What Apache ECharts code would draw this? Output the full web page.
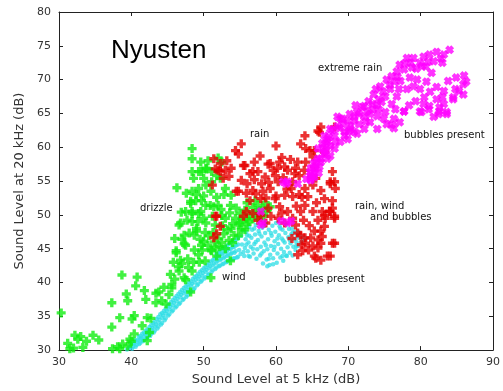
<!DOCTYPE html>
<html>
<head>
<meta charset="utf-8">
<script src="https://cdn.jsdelivr.net/npm/echarts@6/dist/echarts.min.js"></script>
<style>
  html, body { margin: 0; padding: 0; background: #fff; }
  #chart { width: 503px; height: 391px; }
</style>
</head>
<body>
<div id="chart"></div>
<script>
// Axis ranges and tick labels
const xTicks = [30, 40, 50, 60, 70, 80, 90];
const yTicks = [30, 35, 40, 45, 50, 55, 60, 65, 70, 75, 80];

// Wind: fine cyan points along the lower band [5 kHz level, 20 kHz level]
const windPoints = [
  [39.4,30.1],[39.7,30.5],[40.1,30.2],[40.0,30.8],[39.9,31.1],
  [40.6,30.5],[40.4,31.0],[40.5,31.5],[41.1,30.9],[40.9,31.5],[41.0,32.0],
  [41.6,31.3],[41.4,31.8],[41.5,32.4],[42.1,31.7],[41.9,32.3],[42.0,32.9],
  [42.6,32.1],[42.4,32.7],[42.5,33.4],[43.1,32.6],[42.9,33.3],[43.0,34.0],
  [43.6,33.2],[43.4,33.8],[43.5,34.6],[44.1,33.8],[43.9,34.5],[44.0,35.3],
  [44.6,34.4],[44.4,35.1],[44.5,35.8],[45.1,35.1],[44.9,35.8],[45.0,36.5],
  [45.6,35.7],[45.4,36.4],[45.5,37.1],[46.1,36.3],[45.9,37.0],[46.0,37.7],
  [46.6,36.8],[46.4,37.6],[46.5,38.3],[47.1,37.4],[46.9,38.2],[47.0,38.9],
  [47.6,37.9],[47.4,38.7],[47.5,39.4],[48.1,38.5],[47.9,39.3],[48.0,40.0],
  [48.6,39.0],[48.4,39.8],[48.5,40.5],[49.1,39.6],[48.9,40.4],[49.0,41.0],
  [49.6,40.1],[49.4,40.9],[49.5,41.6],[50.1,40.6],[49.9,41.4],[50.0,42.1],
  [50.6,41.1],[50.4,41.9],[50.5,42.6],[51.1,41.6],[50.9,42.4],[51.0,43.1],
  [51.6,42.0],[51.4,42.8],[51.5,43.5],[52.1,42.4],[51.9,43.2],[52.0,43.9],[52.1,44.4],
  [52.6,42.7],[52.4,43.5],[52.5,44.2],[52.6,44.9],[53.1,43.0],[52.9,43.8],[53.0,44.5],[53.1,45.3],
  [53.6,43.3],[53.4,44.1],[53.5,44.9],[53.6,45.7],[54.1,43.5],[53.9,44.4],[54.0,45.2],[54.1,46.1],
  [54.6,43.7],[54.4,44.6],[54.5,45.5],[54.6,46.4],[54.9,44.8],
  [39.75,30.3],[40.25,30.5],[40.25,31.0],[40.75,30.8],[40.75,31.3],
  [41.25,31.1],[41.25,31.6],[41.25,32.1],[41.75,31.5],[41.75,32.0],[41.75,32.6],
  [42.25,31.9],[42.25,32.5],[42.25,33.1],[42.75,32.4],[42.75,33.0],[42.75,33.7],
  [43.25,32.9],[43.25,33.5],[43.25,34.2],[43.75,33.5],[43.75,34.1],[43.75,34.9],
  [44.25,34.0],[44.25,34.8],[44.25,35.5],[44.75,34.7],[44.75,35.4],[44.75,36.1],
  [45.25,35.3],[45.25,36.0],[45.25,36.8],[45.75,35.9],[45.75,36.6],[45.75,37.4],
  [46.25,36.5],[46.25,37.2],[46.25,38.0],[46.75,37.0],[46.75,37.8],[46.75,38.6],
  [47.25,37.6],[47.25,38.4],[47.25,39.2],[47.75,38.1],[47.75,38.9],[47.75,39.7],
  [48.25,38.7],[48.25,39.5],[48.25,40.2],[48.75,39.2],[48.75,40.0],[48.75,40.8],
  [49.25,39.8],[49.25,40.5],[49.25,41.3],[49.75,40.3],[49.75,41.0],[49.75,41.8],
  [50.25,40.8],[50.25,41.6],[50.25,42.3],[50.75,41.3],[50.75,42.1],[50.75,42.8],
  [51.25,41.8],[51.25,42.5],[51.25,43.3],[51.75,42.2],[51.75,42.9],[51.75,43.7],[51.75,44.2],
  [52.25,42.5],[52.25,43.3],[52.25,44.1],[52.25,44.7],[52.75,42.8],[52.75,43.6],[52.75,44.4],[52.75,45.1],
  [53.25,43.1],[53.25,43.9],[53.25,44.7],[53.25,45.5],[53.75,43.4],[53.75,44.2],[53.75,45.0],[53.75,45.9],
  [54.25,43.6],[54.25,44.4],[54.25,45.3],[54.25,46.2],[54.75,43.8],[54.75,45.6],[54.75,46.6],
  [55.1,44.2],[55.3,45.6],[55.2,46.9],[55.4,47.7],[55.6,43.9],[55.7,45.1],[55.8,46.4],[55.9,47.5],
  [56.1,44.6],[56.2,45.9],[56.0,47.0],[56.3,48.2],[56.4,43.8],[56.5,45.3],[56.6,46.6],[56.7,47.8],
  [56.9,44.3],[57.0,45.7],[57.1,47.1],[57.2,48.5],[57.3,43.5],[57.4,44.9],[57.5,46.3],[57.6,47.6],
  [57.8,44.0],[57.9,45.3],[58.0,46.8],[58.1,48.1],[58.2,42.8],[58.3,44.6],[58.4,45.9],[58.5,47.3],
  [58.6,48.8],[58.7,43.4],[58.8,44.9],[58.9,46.4],[59.0,47.8],[59.1,42.6],[59.2,44.1],[59.3,45.4],
  [59.4,46.9],[59.5,48.4],[59.6,43.6],[59.7,44.8],[59.8,46.1],[59.9,47.5],[60.0,48.8],[60.1,42.9],
  [60.2,44.3],[60.3,45.7],[60.4,47.0],[60.5,48.3],[60.6,43.7],[60.7,45.0],[60.8,46.5],[60.9,47.8],
  [61.0,43.2],[61.1,44.5],[61.2,45.9],[61.3,47.3],[61.4,48.5],[61.5,43.9],[61.6,45.2],[61.7,46.7],
  [61.8,47.9],[61.9,44.4],[62.0,45.8],[62.1,47.1],[62.2,48.0],[62.3,44.0],[62.4,45.3],[62.5,46.4],
  [62.6,47.5],[62.7,44.8],[62.8,46.0],[62.9,47.0],[63.0,45.4],[63.1,46.6],[63.2,47.4],[63.4,45.9],
  [63.5,46.8],[63.7,46.2],[64.0,46.6],
  [55.5,44.5],[55.9,45.6],[56.3,46.9],[56.8,45.0],[57.2,46.0],[57.7,47.2],[58.0,44.3],[58.6,45.5],
  [59.0,43.5],[59.3,47.3],[59.8,45.3],[60.2,46.5],[60.6,48.0],[61.0,46.2],[61.4,44.0],[61.9,46.3],
  [62.3,47.4],[62.8,45.4],[58.4,48.4],[57.0,48.0],[56.2,43.9],[60.9,43.9],[59.6,42.7],[58.8,42.4]
];

// Drizzle: green points
const drizzlePoints = [
  [30.3,35.5],[31.5,30.2],[32.0,30.3],[32.6,31.6],[33.3,30.4],[33.8,31.3],[34.7,32.2],
  [35.5,31.5],[32.2,32.2],[31.2,31.0],[33.0,32.0],
  [37.4,30.2],[38.1,30.5],[38.4,30.2],[38.8,30.9],[39.5,30.6],[40.0,31.3],
  [38.7,41.1],[40.8,40.8],[40.6,39.5],[41.8,38.8],[43.4,38.4],[39.3,38.3],[39.5,37.3],
  [37.3,37.0],[42.0,37.5],[43.4,37.0],[38.4,34.8],[40.1,34.6],[42.2,34.8],[37.3,33.4],
  [41.5,33.6],[40.4,32.4],[42.5,32.6],[42.2,31.4],[39.8,31.6],[42.7,34.7],[40.4,35.1],
  [44.8,36.8],[45.6,39.7],[46.6,41.7],[47.3,40.7],[47.9,42.2],[46.8,43.3],[48.2,38.6],
  [46.2,44.7],[47.3,45.7],[45.2,38.2],[44.2,37.3],[45.6,39.2],[48.4,41.7],[47.5,40.4],
  [49.3,44.1],[50.2,43.2],[51.1,44.7],[50.0,46.1],[49.0,47.6],[48.0,47.3],[46.6,48.5],
  [48.4,49.0],[49.3,50.2],[48.2,51.7],[49.7,52.1],[50.9,51.4],[48.4,50.5],[46.2,44.4],
  [47.5,45.5],[47.3,47.0],[46.8,48.8],[47.7,49.2],[49.0,48.0],[50.3,48.8],[50.7,46.9],
  [49.7,45.5],[51.0,44.8],[51.6,48.5],[51.0,40.7],[53.7,43.2],[46.0,40.5],[47.0,42.8],
  [48.4,59.8],[48.4,58.3],[46.3,54.0],[48.4,56.4],[49.7,56.4],[50.4,56.8],[48.6,55.4],
  [49.3,53.9],[48.4,53.5],[48.2,52.0],[48.9,52.1],[50.3,54.4],[51.1,54.9],[51.0,53.5],
  [50.3,51.4],[51.4,51.2],[48.4,50.2],[49.6,50.5],[52.0,58.4],[52.5,57.8],[49.3,56.4],
  [50.3,56.9],[51.1,56.4],[50.0,55.4],[52.3,55.4],[53.0,53.9],[53.8,52.9],[53.7,51.4],
  [52.0,51.4],[52.5,49.9],[54.5,51.0],[55.7,50.7],[57.1,52.1],[56.8,51.1],[55.9,49.5],
  [54.8,48.5],[55.7,47.8],[53.8,48.0],[53.0,49.5],[57.5,51.4],[58.2,51.0],[47.5,50.5],
  [52.0,46.5],[52.8,47.2],[53.5,46.2],[54.2,47.0],[55.0,48.8],[56.0,48.6],[56.8,49.4],
  [57.5,49.6],[58.3,49.8],[52.2,45.3],[54.0,45.9],[51.5,46.0],[52.6,48.4],[54.4,49.5],
  [55.3,49.3],[56.3,50.0],[57.2,50.4],[58.7,50.5],[59.2,51.2],[50.2,47.4],[51.3,47.4],
  [49.5,46.4],[48.7,44.8],[49.8,44.8],[51.8,43.9],[53.0,45.0],[54.8,46.9],
  [47.8,43.5],[48.6,43.0],[49.4,43.0],[50.6,45.5],[51.7,45.2],[52.5,45.9],[53.3,47.8],
  [54.0,48.7],[55.2,47.8],[56.2,49.0],[57.8,50.6],[58.5,51.8],[56.0,51.8],[55.0,50.2],
  [53.6,50.3],[52.4,50.8],[51.2,49.8],[50.0,49.5],[49.2,49.0],[48.7,47.0],[47.0,46.4],
  [46.0,46.5],[45.8,43.0],[46.5,42.3],[49.0,53.0],[50.0,52.8],[51.8,52.6],[52.8,53.0],
  [50.6,58.0],[49.6,57.8],[51.8,55.8],[47.6,53.2],[46.9,50.4],[45.4,41.2],[44.5,39.3],
  [43.8,38.6]
];

// Rain: red points
const rainPoints = [
  [51.4,58.3],[51.6,56.8],[51.2,54.4],[51.6,49.8],[51.4,46.6],[51.8,47.2],
  [55.2,60.5],[54.4,59.5],[54.8,59.0],[52.3,57.6],[52.0,56.6],[53.0,56.6],[53.8,56.9],
  [52.7,55.4],[55.7,57.3],[55.2,55.1],[54.5,53.5],[55.9,53.2],
  [64.0,61.7],[63.4,60.5],[65.8,62.4],[60.0,60.2],[55.5,57.3],[52.3,56.4],[58.9,57.5],
  [60.5,57.8],[61.6,56.6],[62.7,56.9],[64.1,57.8],[65.1,58.6],[64.1,59.8],[65.3,59.5],
  [56.4,56.1],[57.5,56.4],[58.5,55.6],[59.9,55.8],[60.3,54.9],[59.2,53.9],[58.2,53.5],
  [56.8,53.6],[54.8,53.5],[56.4,52.1],[59.9,52.4],[61.2,52.9],[62.1,53.9],[62.3,54.9],
  [64.0,53.9],[65.1,54.4],[66.2,53.6],[67.5,54.9],[66.7,52.4],[67.8,52.1],[64.0,51.4],
  [62.3,52.7],[60.5,51.2],[58.9,51.0],[57.9,52.4],[59.3,49.8],[60.3,49.5],[61.6,50.5],
  [62.3,49.5],[63.4,50.5],[65.1,50.5],[65.8,49.2],[66.7,49.9],[67.5,50.5],[65.3,47.6],
  [64.8,46.6],[65.1,45.4],[66.2,45.8],[63.4,47.0],[62.7,48.5],[57.9,49.9],[58.6,48.8],
  [57.5,49.2],[56.8,50.2],[55.9,50.5],[51.8,49.8],[55.5,49.8],[52.3,48.3],[64.0,46.6],
  [65.8,45.1],[63.7,44.7],[65.3,43.9],[67.1,43.9],[67.8,45.8],[63.0,44.1],[68.1,49.5],
  [67.4,50.5],[66.2,47.6],[64.1,45.8],[66.7,48.3],[66.2,63.0],[68.1,63.0],[66.0,62.2],
  [64.7,59.5],[63.0,57.8],[61.2,57.1],[59.2,57.6],[56.8,56.4],[67.8,56.4],[68.1,54.9],
  [65.3,57.1],[66.7,59.3],[65.5,55.4],[63.0,47.3],[63.5,45.6],[62.2,46.5],[65.5,43.6],
  [66.2,43.3],[67.5,43.9],[68.1,45.8],[65.8,46.3],[66.8,49.5],[68.1,49.8],[67.8,51.0],
  [66.4,50.5],[68.2,53.9],[67.5,54.6],[60.8,58.5],[62.0,58.2],[57.0,57.8],[53.2,58.0],
  [61.0,55.5],[63.2,55.8],[63.6,52.6],[60.8,50.3],[59.0,54.8],
  [58.0,54.6],[59.6,56.6],[61.5,53.8],[63.2,53.0],[62.8,51.3],[61.2,48.8],[64.6,48.4],
  [63.8,49.2],[60.0,52.8],[58.6,52.5],[57.2,53.1],[56.0,54.6],[57.0,55.2],[64.4,52.7],
  [65.6,51.8],[66.4,46.8],[64.5,44.8],[62.6,56.1],[63.9,56.6],[60.2,56.9],[57.8,58.7],
  [53.5,55.7]
];

// Extreme rain: magenta points
const extremePoints = [
  [84.0,74.4],[82.2,74.1],[83.2,73.7],[81.2,73.7],[81.8,72.7],[80.4,73.4],[79.9,72.5],
  [79.0,73.2],[78.1,73.2],[78.8,71.8],[77.1,72.2],[77.7,71.5],[76.7,71.2],[76.0,70.5],
  [76.4,69.7],[75.3,70.0],[74.4,69.0],[75.8,68.6],[75.1,67.5],[74.2,67.1],[73.5,67.8],
  [73.3,66.4],[72.6,65.3],[71.9,65.9],[71.5,64.9],[70.8,64.5],[72.2,64.5],[74.2,65.6],
  [75.1,65.2],[76.0,66.4],[76.7,67.5],[77.0,68.6],[69.9,63.9],[68.9,64.2],[70.3,63.1],
  [71.5,63.4],[73.0,63.7],[74.0,62.7],[74.9,64.2],[72.2,62.7],[70.8,62.3],[68.5,63.1],
  [69.5,61.7],[68.1,61.7],[67.1,61.2],[67.5,60.2],[66.7,59.0],[66.2,57.8],[65.3,56.8],
  [65.8,58.3],[67.1,58.3],[64.8,55.8],
  [84.9,70.3],[85.9,69.3],[85.3,68.3],[84.5,67.4],[83.2,68.3],[82.2,68.9],[82.2,67.1],
  [83.2,66.4],[83.6,65.2],[82.6,65.3],[81.2,66.1],[80.5,67.4],[79.9,68.6],[79.0,69.0],
  [78.1,68.6],[79.5,70.0],[80.8,69.7],[80.4,66.4],[79.9,65.3],[77.7,65.3],[86.3,69.7],
  [85.9,67.8],[84.5,67.1],[83.6,64.9],[82.6,65.9],[82.5,64.9],[81.1,65.6],[80.1,65.2],
  [77.1,63.7],[76.3,62.8],
  [68.5,64.5],[67.5,62.7],[67.1,60.8],[66.7,59.3],[66.2,58.3],[65.5,56.8],[65.1,55.8],
  [64.8,55.4],[66.0,57.1],[69.5,62.3],[69.9,61.2],[68.9,60.8],[68.1,59.8],[67.5,58.7],
  [70.3,62.7],[70.8,63.9],[69.2,64.2],[66.7,61.7],[65.8,59.8],[64.8,56.9],[65.3,55.6],
  [61.6,54.9],[61.0,54.9],[61.4,54.6],[63.0,54.6],[64.8,55.1],[57.9,50.5],[57.9,48.5],
  [60.7,49.1],[61.6,48.8],[62.1,49.1],[58.2,48.8],[65.5,57.8],[66.5,59.8],[67.3,61.5],
  [64.7,56.3],[66.8,60.5],[67.8,62.5],[65.9,56.2],[68.8,62.8],[72.2,66.1],[73.0,64.9],
  [74.0,64.6],[75.3,63.4],[76.3,64.2],[77.7,65.3],[71.0,66.2],[73.8,68.6],[78.5,70.3],
  [77.2,69.8],[81.5,71.0],[83.0,72.5],[80.7,71.9],[83.8,69.8],[81.3,68.2],
  [69.3,63.4],[70.2,64.9],[71.2,65.2],[72.8,66.8],[73.9,66.2],[74.8,68.2],[75.7,69.2],
  [76.8,70.4],[77.8,72.4],[78.6,72.5],[79.4,71.6],[80.2,72.0],[81.0,72.6],[82.8,73.1],
  [74.6,66.7],[73.4,65.6],[72.4,63.8],[71.2,62.0],[70.0,62.3],[68.2,60.8],[67.0,59.6],
  [66.4,60.6],[65.2,57.6],[64.2,55.3],[76.5,65.6],[78.4,66.2],[79.3,66.8],[81.8,64.5],
  [84.8,68.6],[86.0,70.6],[83.0,67.4],[76.0,63.3]
];

// Marker glyphs: a bold plus for drizzle/rain, a blocky x for extreme rain
const plusPath = 'path://M2.5,0h3v2.5h2.5v3h-2.5v2.5h-3v-2.5h-2.5v-3h2.5z';
const crossPath = 'path://M0,2.5L2.5,0L4,1.5L5.5,0L8,2.5L6.5,4L8,5.5L5.5,8L4,6.5L2.5,8L0,5.5L1.5,4Z';

const labelFont = 'DejaVu Sans';
const axisColor = '#222';

function frameAxis(position, isX) {
  return {
    type: 'value',
    position: position,
    min: isX ? xTicks[0] : yTicks[0],
    max: isX ? xTicks[xTicks.length - 1] : yTicks[yTicks.length - 1],
    interval: isX ? 10 : 5,
    axisLine: { show: true, onZero: false, lineStyle: { color: axisColor, width: 1 } },
    axisTick: { show: true, inside: true, length: 4, lineStyle: { color: axisColor } },
    axisLabel: { show: false },
    splitLine: { show: false }
  };
}

const chart = echarts.init(document.getElementById('chart'), null, { renderer: 'canvas' });

chart.setOption({
  animation: false,
  backgroundColor: '#ffffff',
  grid: { left: 59, right: 6, top: 12, bottom: 38 },
  xAxis: [
    {
      type: 'value',
      position: 'bottom',
      min: xTicks[0],
      max: xTicks[xTicks.length - 1],
      interval: 10,
      name: 'Sound Level at 5 kHz (dB)',
      nameLocation: 'middle',
      nameGap: 21,
      nameTextStyle: { fontFamily: labelFont, fontSize: 13, color: '#333' },
      axisLine: { show: true, onZero: false, lineStyle: { color: axisColor, width: 1 } },
      axisTick: { show: true, inside: true, length: 4, lineStyle: { color: axisColor } },
      axisLabel: { fontFamily: labelFont, fontSize: 11, color: '#333', margin: 7 },
      splitLine: { show: false }
    },
    frameAxis('top', true)
  ],
  yAxis: [
    {
      type: 'value',
      position: 'left',
      min: yTicks[0],
      max: yTicks[yTicks.length - 1],
      interval: 5,
      name: 'Sound Level at 20 kHz (dB)',
      nameLocation: 'middle',
      nameGap: 26,
      nameTextStyle: { fontFamily: labelFont, fontSize: 13, color: '#333' },
      axisLine: { show: true, onZero: false, lineStyle: { color: axisColor, width: 1 } },
      axisTick: { show: true, inside: true, length: 4, lineStyle: { color: axisColor } },
      axisLabel: { fontFamily: labelFont, fontSize: 11, color: '#333', margin: 8 },
      splitLine: { show: false }
    },
    frameAxis('right', false)
  ],
  series: [
    {
      name: 'wind',
      type: 'scatter',
      data: windPoints,
      symbol: 'circle',
      symbolSize: 4.5,
      itemStyle: { color: '#2edde6', opacity: 0.75 },
      z: 1
    },
    {
      name: 'drizzle',
      type: 'scatter',
      data: drizzlePoints,
      symbol: plusPath,
      symbolSize: 9,
      itemStyle: { color: '#11ee11' },
      z: 2
    },
    {
      name: 'rain',
      type: 'scatter',
      data: rainPoints,
      symbol: plusPath,
      symbolSize: 9,
      itemStyle: { color: '#e60000' },
      z: 3
    },
    {
      name: 'extreme rain',
      type: 'scatter',
      data: extremePoints,
      symbol: crossPath,
      symbolSize: 9,
      itemStyle: { color: '#ff00ff' },
      z: 4
    }
  ],
  graphic: [
    { type: 'text', left: 111, top: 38, style: { text: 'Nyusten', font: '26px "Liberation Sans"', fill: '#000' } },
    { type: 'text', left: 318, top: 63, style: { text: 'extreme rain', font: '10px "DejaVu Sans"', fill: '#111' } },
    { type: 'text', left: 404, top: 130, style: { text: 'bubbles present', font: '10px "DejaVu Sans"', fill: '#111' } },
    { type: 'text', left: 250, top: 129, style: { text: 'rain', font: '10px "DejaVu Sans"', fill: '#111' } },
    { type: 'text', left: 140, top: 203, style: { text: 'drizzle', font: '10px "DejaVu Sans"', fill: '#111' } },
    { type: 'text', left: 355, top: 201, style: { text: 'rain, wind', font: '10px "DejaVu Sans"', fill: '#111' } },
    { type: 'text', left: 370, top: 212, style: { text: 'and bubbles', font: '10px "DejaVu Sans"', fill: '#111' } },
    { type: 'text', left: 222, top: 272, style: { text: 'wind', font: '10px "DejaVu Sans"', fill: '#111' } },
    { type: 'text', left: 284, top: 274, style: { text: 'bubbles present', font: '10px "DejaVu Sans"', fill: '#111' } }
  ]
});
</script>
</body>
</html>
